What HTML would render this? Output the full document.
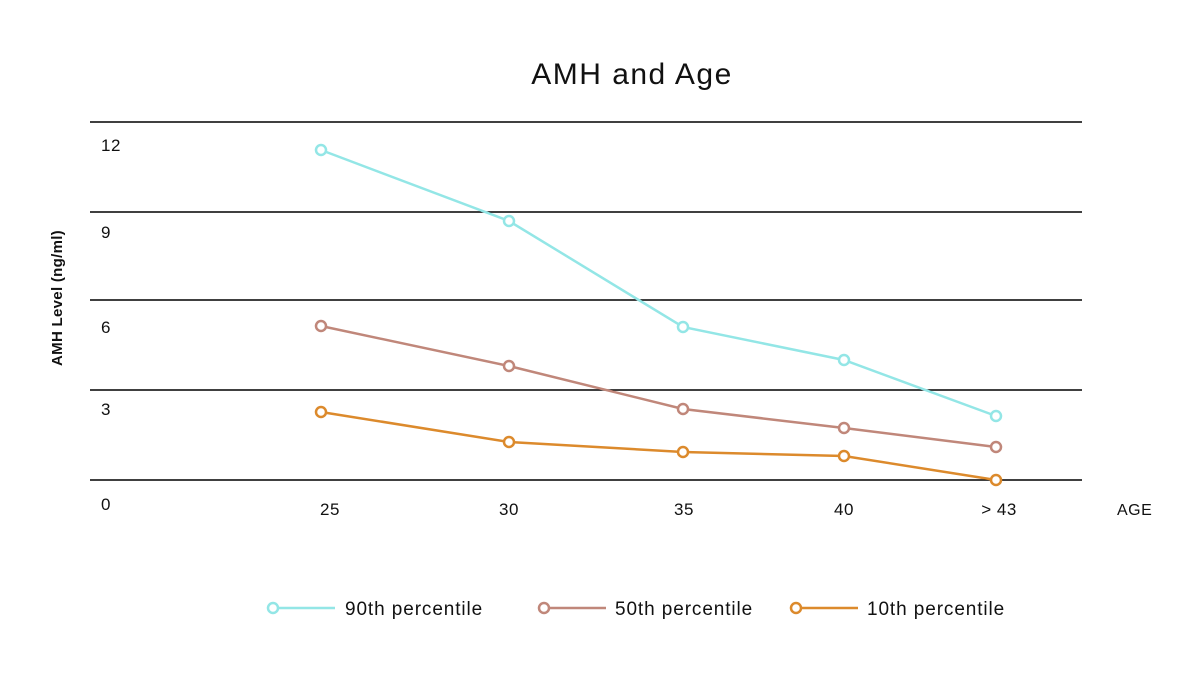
<!DOCTYPE html>
<html><head><meta charset="utf-8"><style>
body{margin:0;background:#fff;}
svg text{font-family:"Liberation Sans",sans-serif;fill:#111;}
</style></head><body>
<svg width="1203" height="674" viewBox="0 0 1203 674" xmlns="http://www.w3.org/2000/svg">
<rect width="1203" height="674" fill="#fff"/>
<text x="632" y="84" font-size="30" text-anchor="middle" letter-spacing="1.5">AMH and Age</text>
<g stroke="#000" stroke-width="1.5">
<line x1="90" y1="122" x2="1082" y2="122"/>
<line x1="90" y1="212" x2="1082" y2="212"/>
<line x1="90" y1="300" x2="1082" y2="300"/>
<line x1="90" y1="390" x2="1082" y2="390"/>
<line x1="90" y1="480" x2="1082" y2="480"/>
</g>
<g font-size="17" letter-spacing="0.5">
<text x="101" y="151">12</text>
<text x="101" y="238">9</text>
<text x="101" y="333">6</text>
<text x="101" y="415">3</text>
<text x="101" y="510">0</text>
<text x="330" y="515" text-anchor="middle">25</text>
<text x="509" y="515" text-anchor="middle">30</text>
<text x="684" y="515" text-anchor="middle">35</text>
<text x="844" y="515" text-anchor="middle">40</text>
<text x="999" y="515" text-anchor="middle">&gt; 43</text>
<text x="1117" y="515" font-size="16">AGE</text>
</g>
<text transform="translate(62,298) rotate(-90)" font-size="15" font-weight="bold" text-anchor="middle" letter-spacing="0.3">AMH Level (ng/ml)</text>
<g fill="#fff" stroke-width="2.5">
<polyline fill="none" stroke="#93e6e6" points="321,150 509,221 683,327 844,360 996,416"/>
<polyline fill="none" stroke="#c0877a" points="321,326 509,366 683,409 844,428 996,447"/>
<polyline fill="none" stroke="#dc8a2c" points="321,412 509,442 683,452 844,456 996,480"/>
<g stroke="#93e6e6"><circle cx="321" cy="150" r="5"/><circle cx="509" cy="221" r="5"/><circle cx="683" cy="327" r="5"/><circle cx="844" cy="360" r="5"/><circle cx="996" cy="416" r="5"/></g>
<g stroke="#c0877a"><circle cx="321" cy="326" r="5"/><circle cx="509" cy="366" r="5"/><circle cx="683" cy="409" r="5"/><circle cx="844" cy="428" r="5"/><circle cx="996" cy="447" r="5"/></g>
<g stroke="#dc8a2c"><circle cx="321" cy="412" r="5"/><circle cx="509" cy="442" r="5"/><circle cx="683" cy="452" r="5"/><circle cx="844" cy="456" r="5"/><circle cx="996" cy="480" r="5"/></g>
<line x1="273" y1="608" x2="335" y2="608" stroke="#93e6e6"/><circle cx="273" cy="608" r="5" stroke="#93e6e6"/>
<line x1="544" y1="608" x2="606" y2="608" stroke="#c0877a"/><circle cx="544" cy="608" r="5" stroke="#c0877a"/>
<line x1="796" y1="608" x2="858" y2="608" stroke="#dc8a2c"/><circle cx="796" cy="608" r="5" stroke="#dc8a2c"/>
</g>
<g font-size="19" letter-spacing="0.9">
<text x="345" y="615">90th percentile</text>
<text x="615" y="615">50th percentile</text>
<text x="867" y="615">10th percentile</text>
</g>
</svg>
</body></html>
